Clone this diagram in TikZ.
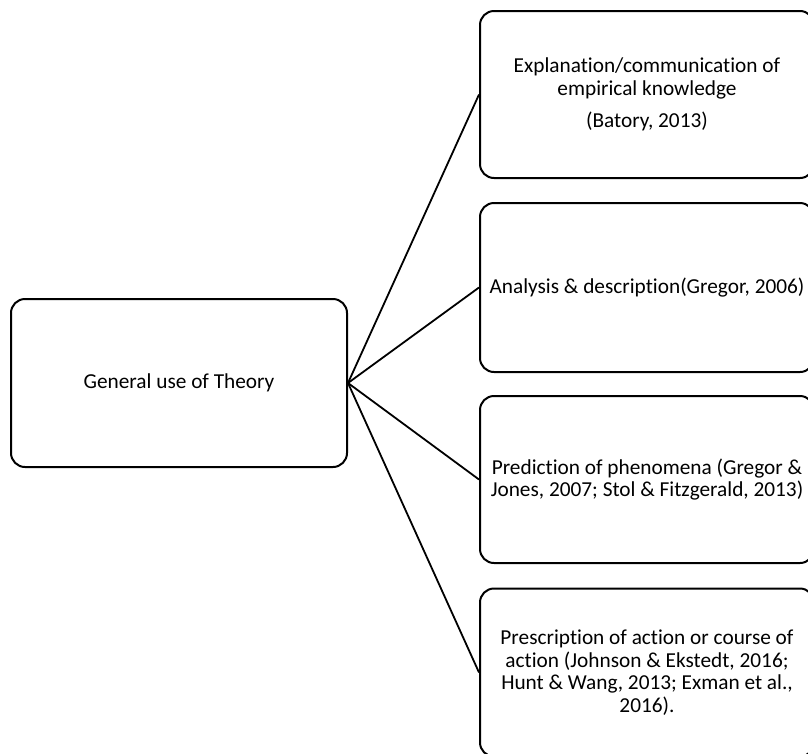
\documentclass[tikz,border=0pt]{standalone}
\usepackage{fontspec}
\setmainfont[Ligatures=NoCommon,Contextuals=NoAlternate]{Carlito}
\begin{document}
\begin{tikzpicture}[x=1pt,y=-1pt,
  box/.style={draw=black, line width=2pt, rounded corners=14pt, align=center,
    font=\fontsize{21.3}{22.5}\selectfont, inner sep=0pt},
  link/.style={draw=black, line width=1.8pt}]
\useasboundingbox (0,0) rectangle (808,753);
\clip (0,0) rectangle (808,753);
% root box
\node[box, minimum width=336pt, minimum height=168pt] (root) at (179,383) {General use of Theory};
% uses of theory
\node[box, minimum width=334pt, minimum height=167pt] (b1) at (647,94.5)
  {Explanation/communication of\\empirical knowledge\\[10pt](Batory, 2013)};
\node[box, minimum width=334pt, minimum height=169pt] (b2) at (647,287.5)
  {Analysis \& description(Gregor, 2006)};
\node[box, minimum width=334pt, minimum height=167pt] (b3) at (647,479.5)
  {Prediction of phenomena (Gregor \&\\Jones, 2007; Stol \& Fitzgerald, 2013)};
\node[box, minimum width=334pt, minimum height=168pt] (b4) at (647,672.5)
  {Prescription of action or course of\\action (Johnson \& Ekstedt, 2016;\\Hunt \& Wang, 2013; Exman et al.,\\2016).};
% connectors
\foreach \t in {b1,b2,b3,b4}
  \draw[link] (root.east) -- (\t.west);
\end{tikzpicture}
\end{document}
